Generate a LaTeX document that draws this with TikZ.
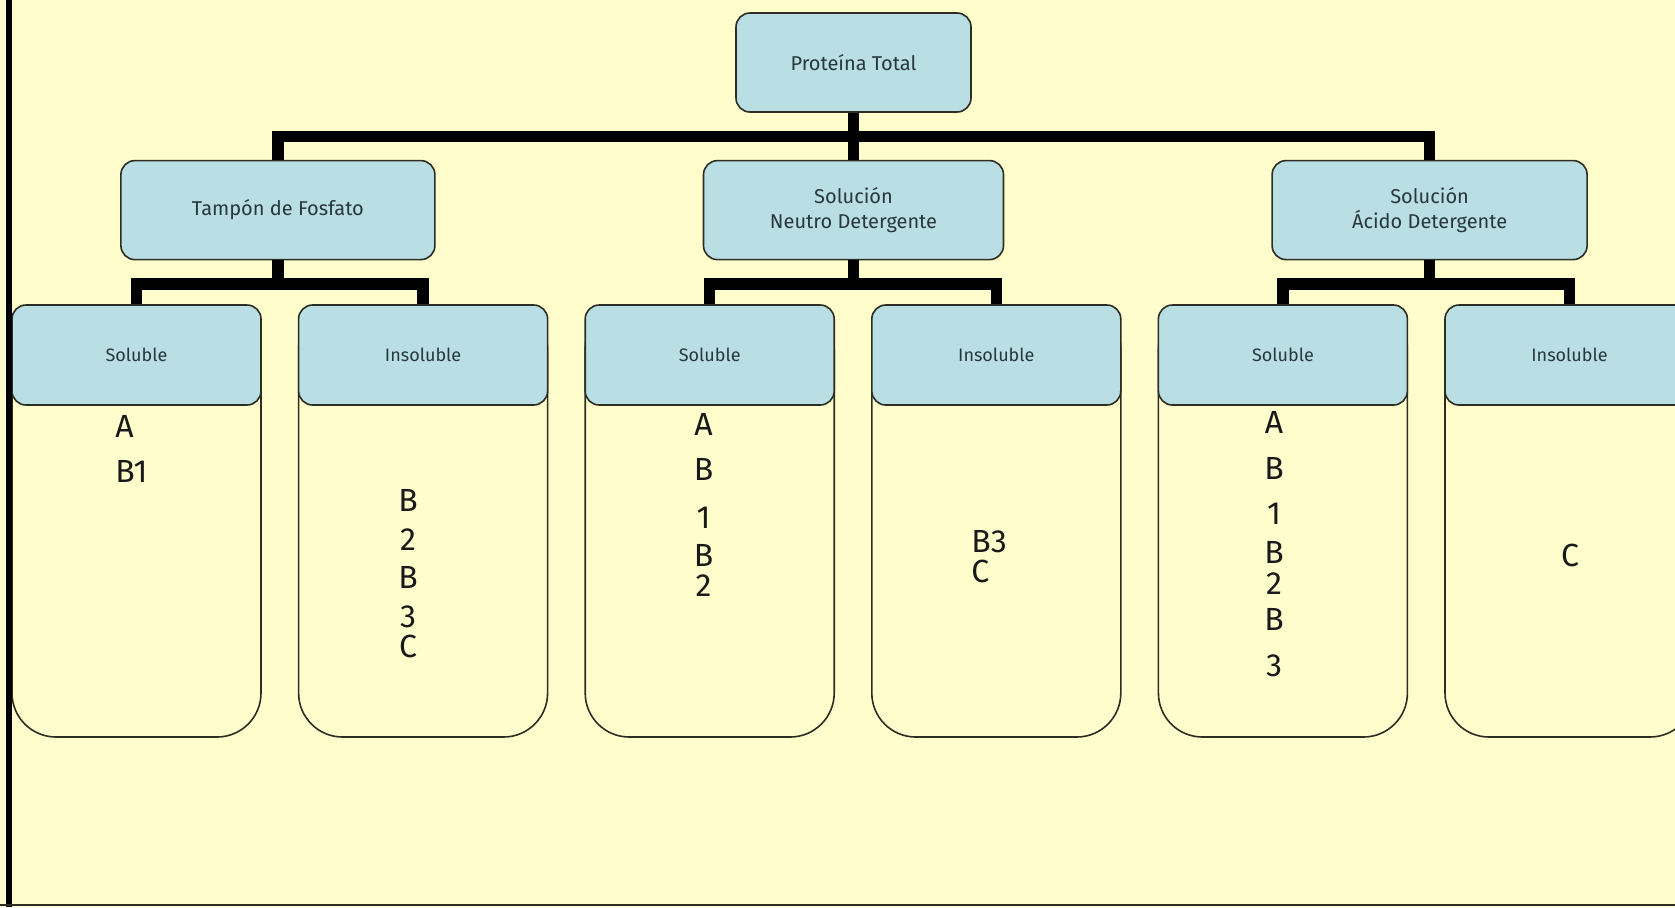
\documentclass[tikz,border=0pt]{standalone}
\usepackage{fontspec}
\setmainfont{Fira Sans}
\usetikzlibrary{positioning}
\definecolor{paper1}{RGB}{255,253,204}
\definecolor{box1}{RGB}{185,222,228}
\definecolor{edge1}{RGB}{45,45,35}
\definecolor{text1}{RGB}{40,55,60}

\begin{document}
\begin{tikzpicture}[x=0.5pt, y=-0.5pt, node distance=18pt,
    card/.style={draw=edge1, line width=0.8pt, fill=box1, rounded corners=7pt, align=center, text=text1},
    bigcard/.style={card, minimum height=49.5pt, font=\fontsize{10}{12.8}\selectfont},
    headcard/.style={card, minimum width=124.5pt, minimum height=50pt, font=\fontsize{9}{11}\selectfont},
    bodycard/.style={draw=edge1, line width=0.8pt, fill=paper1, rounded corners=22pt, minimum width=124.5pt, minimum height=216pt},
    item/.style={inner sep=0pt, font=\fontsize{16}{18}\selectfont, text=black!90},
    tree/.style={line width=5.75pt, black, line join=miter}]
    \useasboundingbox (0,0) rectangle (1675,907);
    \clip (0,0) rectangle (1675,907);
    \fill[paper1] (0,0) rectangle (1675,907);

    % top and second level
    \node[bigcard, minimum width=117.5pt] (total) at (853.5,62.5) {Proteína Total};
    \node[bigcard, minimum width=150pt, below=23.5pt of total] (neutro) {Solución\\Neutro Detergente};
    \node[bigcard, minimum width=157pt, left=133.5pt of neutro] (tampon) {Tampón de Fosfato};
    \node[bigcard, minimum width=157.5pt, right=133.5pt of neutro] (acido) {Solución\\Ácido Detergente};

    % third level: body first, header on top
    \node[bodycard] (s1) at (136.5,521) {};
    \node[bodycard, right=of s1] (i1) {};
    \node[bodycard, right=of i1] (s2) {};
    \node[bodycard, right=of s2] (i2) {};
    \node[bodycard, right=of i2] (s3) {};
    \node[bodycard, right=of s3] (i3) {};
    \node[headcard, anchor=north] (s1h) at (s1.north) {Soluble};
    \node[headcard, anchor=north] (i1h) at (i1.north) {Insoluble};
    \node[headcard, anchor=north] (s2h) at (s2.north) {Soluble};
    \node[headcard, anchor=north] (i2h) at (i2.north) {Insoluble};
    \node[headcard, anchor=north] (s3h) at (s3.north) {Soluble};
    \node[headcard, anchor=north] (i3h) at (i3.north) {Insoluble};

    % contents
    \node[item, anchor=base west] (s1a) at (115,437.5) {A};
    \node[item, anchor=base west] (s1b) at (115,482.5) {B1};
    \node[item, anchor=base] (i1a) at (408,511) {B};
    \node[item, anchor=base] (i1b) at (408,550) {2};
    \node[item, anchor=base] (i1c) at (408,588) {B};
    \node[item, anchor=base] (i1d) at (408,627) {3};
    \node[item, anchor=base] (i1e) at (408,657) {C};
    \node[item, anchor=base] (s2a) at (703.5,435.5) {A};
    \node[item, anchor=base] (s2b) at (703.5,480) {B};
    \node[item, anchor=base] (s2c) at (703.5,528) {1};
    \node[item, anchor=base] (s2d) at (703.5,566) {B};
    \node[item, anchor=base] (s2e) at (703.5,596) {2};
    \node[item, anchor=base west] (i2a) at (971,552) {B3};
    \node[item, anchor=base west] (i2b) at (971,582) {C};
    \node[item, anchor=base] (s3a) at (1274,433) {A};
    \node[item, anchor=base] (s3b) at (1274,479) {B};
    \node[item, anchor=base] (s3c) at (1274,524.5) {1};
    \node[item, anchor=base] (s3d) at (1274,563.5) {B};
    \node[item, anchor=base] (s3e) at (1274,594) {2};
    \node[item, anchor=base] (s3f) at (1274,630.5) {B};
    \node[item, anchor=base] (s3g) at (1274,676.5) {3};
    \node[item, anchor=base] (i3a) at (1570,566) {C};

    % connectors
    \draw[tree] (total.south) -- ++(0,-11.75pt) -| (tampon.north);
    \draw[tree] (total.south) -- ++(0,-11.75pt) -| (acido.north);
    \draw[tree] (total) -- (neutro);
    \draw[tree] (tampon.south) -- ++(0,-11.75pt) -| (s1h.north);
    \draw[tree] (tampon.south) -- ++(0,-11.75pt) -| (i1h.north);
    \draw[tree] (neutro.south) -- ++(0,-11.75pt) -| (s2h.north);
    \draw[tree] (neutro.south) -- ++(0,-11.75pt) -| (i2h.north);
    \draw[tree] (acido.south) -- ++(0,-11.75pt) -| (s3h.north);
    \draw[tree] (acido.south) -- ++(0,-11.75pt) -| (i3h.north);

    % frame
    \fill[black] (6,0) rectangle (12,907);
    \draw[line width=1pt, edge1] (0,904.5) -- (1675,904.5);
\end{tikzpicture}
\end{document}
